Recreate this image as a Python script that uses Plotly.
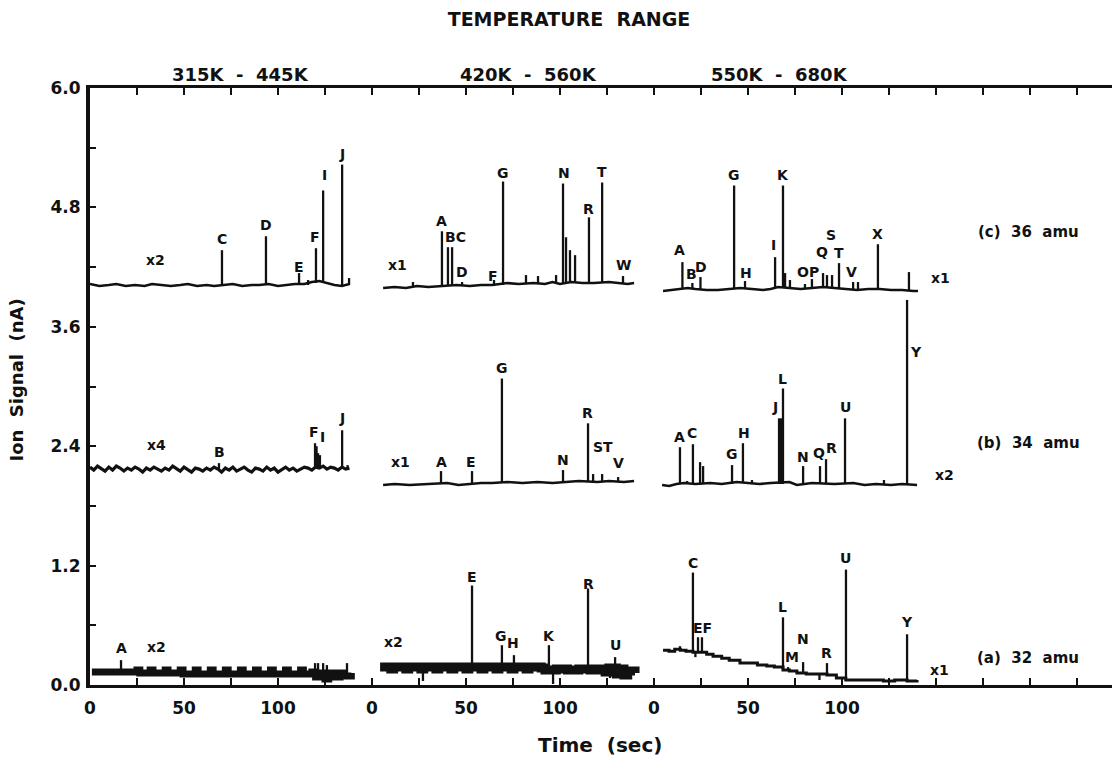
import plotly.graph_objects as go

INK = "#111111"
FONT = "DejaVu Sans"

# each temperature window restarts its time scale at 0 s; windows sit 150 s apart
SEG_OFFSET = [0, 150, 300]
TEMP_RANGES = ["315K  -  445K", "420K  -  560K", "550K  -  680K"]
AMU_LABELS = ["(c)  36  amu", "(b)  34  amu", "(a)  32  amu"]
AMU_LEVEL = [4.55, 2.43, 0.27]

# ---------------- (c) 36 amu ----------------
c1_t = [0, 5, 10, 14, 19, 24, 29, 33, 38, 43, 48, 52, 57, 62, 66, 71, 76, 81, 86, 90, 95, 100, 105, 109, 114, 118, 122, 126, 130, 134, 138]
c1_v = [4.03, 4.01, 4.02, 4.03, 4.01, 4.02, 4.01, 4.03, 4.02, 4.01, 4.02, 4.03, 4.01, 4.02, 4.01, 4.02, 4.03, 4.01, 4.02, 4.02, 4.03, 4.01, 4.02, 4.03, 4.03, 4.05, 4.06, 4.04, 4.02, 4.01, 4.03]
c1_pk_t = [70.2, 93.6, 111.2, 116.0, 120.2, 124.0, 134.1, 137.8]
c1_pk_lo = [4.02, 4.02, 4.02, 4.02, 4.04, 4.06, 4.02, 4.02]
c1_pk_hi = [4.37, 4.51, 4.14, 4.07, 4.39, 4.97, 5.23, 4.09]
c1_lab = [("x2", 35, 4.27), ("C", 70.2, 4.48), ("D", 93.6, 4.62), ("E", 111.2, 4.20),
          ("F", 119.5, 4.50), ("I", 124.5, 5.13), ("J", 134.1, 5.34)]

c2_t = [5.9, 12, 18, 24, 30, 36, 45, 52, 58, 64, 72, 78, 86, 92, 96, 100, 106, 112, 118, 126, 130, 136, 139.4]
c2_v = [3.99, 4.00, 3.99, 4.01, 4.00, 4.01, 4.02, 4.01, 4.02, 4.02, 4.04, 4.03, 4.04, 4.03, 4.05, 4.03, 4.05, 4.04, 4.04, 4.05, 4.04, 4.03, 4.04]
c2_pk_t = [21.8, 37.2, 40.4, 42.6, 47.9, 64.9, 69.7, 81.9, 88.3, 97.9, 101.6, 103.2, 105.3, 108.0, 115.4, 122.4, 133.5]
c2_pk_lo = [4.00, 4.01, 4.01, 4.01, 4.02, 4.02, 4.02, 4.04, 4.04, 4.04, 4.04, 4.04, 4.04, 4.04, 4.04, 4.04, 4.04]
c2_pk_hi = [4.05, 4.56, 4.40, 4.40, 4.05, 4.07, 5.06, 4.12, 4.11, 4.12, 5.04, 4.50, 4.37, 4.32, 4.70, 5.05, 4.11]
c2_lab = [("x1", 13.8, 4.22), ("A", 36.7, 4.66), ("BC", 44.2, 4.50), ("D", 47.9, 4.15),
          ("F", 64.4, 4.11), ("G", 69.7, 5.15), ("N", 102.1, 5.15), ("R", 115.4, 4.78),
          ("T", 122.4, 5.16), ("W", 134.0, 4.22)]

c3_t = [4.8, 10, 14, 18, 22, 28, 34, 40, 46, 52, 58, 62, 66, 72, 78, 84, 90, 96, 102, 108, 114, 120, 126, 132, 138, 140.4]
c3_v = [3.96, 3.97, 3.98, 3.99, 3.98, 3.97, 3.97, 3.98, 3.99, 3.98, 3.97, 3.98, 4.00, 3.99, 3.98, 3.99, 4.00, 3.99, 3.98, 3.97, 3.98, 3.98, 3.97, 3.97, 3.96, 3.96]
c3_pk_t = [15.1, 20.4, 24.7, 42.6, 48.4, 64.4, 68.6, 69.7, 72.3, 80.3, 84.0, 89.9, 92.0, 94.7, 98.4, 105.9, 108.5, 119.1, 135.6]
c3_pk_lo = [3.98, 3.98, 3.98, 3.98, 3.99, 3.99, 4.00, 4.00, 3.99, 3.98, 3.99, 3.99, 3.99, 3.99, 3.99, 3.98, 3.98, 3.98, 3.97]
c3_pk_hi = [4.25, 4.04, 4.10, 5.02, 4.06, 4.30, 5.02, 4.14, 4.07, 4.03, 4.08, 4.14, 4.12, 4.12, 4.24, 4.05, 4.05, 4.43, 4.15]
c3_lab = [("A", 13.8, 4.37), ("B", 19.7, 4.13), ("D", 25.0, 4.20), ("G", 42.6, 5.13),
          ("H", 49.0, 4.14), ("I", 63.3, 4.42), ("K", 68.6, 5.13), ("OP", 81.9, 4.15),
          ("Q", 89.4, 4.35), ("S", 94.2, 4.52), ("T", 98.4, 4.34), ("V", 104.8, 4.15),
          ("X", 119.1, 4.53), ("x1", 152.2, 4.09)]

# ---------------- (b) 34 amu ----------------
b1_t = [0, 2, 4, 6, 8, 10, 12, 14, 16, 18, 20, 22, 24, 26, 28, 30, 32, 34, 36, 38,
        40, 42, 44, 46, 48, 50, 52, 54, 56, 58, 60, 62, 64, 66, 68, 70, 72, 74, 76, 78,
        80, 82, 84, 86, 88, 90, 92, 94, 96, 98, 100, 102, 104, 106, 108, 110, 112, 114, 116, 118,
        120, 122, 124, 126, 128, 130, 132, 134, 136, 138]
b1_v = [2.19, 2.16, 2.20, 2.17, 2.15, 2.19, 2.16, 2.20, 2.18, 2.15,
        2.18, 2.16, 2.19, 2.17, 2.14, 2.18, 2.16, 2.19, 2.17, 2.15,
        2.18, 2.16, 2.20, 2.17, 2.15, 2.19, 2.16, 2.14, 2.18, 2.17,
        2.15, 2.18, 2.16, 2.19, 2.17, 2.14, 2.18, 2.16, 2.19, 2.15,
        2.17, 2.19, 2.16, 2.14, 2.18, 2.17, 2.15, 2.19, 2.16, 2.18,
        2.14, 2.17, 2.19, 2.16, 2.18, 2.15, 2.17, 2.19, 2.18, 2.16,
        2.19, 2.18, 2.20, 2.17, 2.19, 2.18, 2.16, 2.19, 2.17, 2.18]
b1_pk_t = [68.6, 119.7, 120.5, 121.3, 122.3, 134.1, 137.0]
b1_pk_lo = [2.16, 2.18, 2.18, 2.18, 2.18, 2.18, 2.17]
b1_pk_hi = [2.23, 2.43, 2.40, 2.33, 2.31, 2.56, 2.21]
b1_lab = [("x4", 35.6, 2.41), ("B", 69.1, 2.34), ("F", 119.2, 2.54), ("I", 123.4, 2.49), ("J", 134.1, 2.68)]

b2_t = [5.9, 12, 20, 28, 34, 40, 46, 52, 58, 64, 72, 80, 88, 96, 104, 110, 120, 126, 134, 139.4]
b2_v = [2.01, 2.02, 2.01, 2.02, 2.02, 2.03, 2.01, 2.02, 2.03, 2.03, 2.04, 2.03, 2.04, 2.03, 2.04, 2.05, 2.04, 2.05, 2.04, 2.05]
b2_pk_t = [36.7, 53.2, 69.1, 101.6, 114.9, 117.6, 122.4, 130.9]
b2_pk_lo = [2.02, 2.02, 2.03, 2.03, 2.04, 2.04, 2.04, 2.04]
b2_pk_hi = [2.15, 2.15, 3.08, 2.16, 2.63, 2.12, 2.12, 2.09]
b2_lab = [("x1", 15.4, 2.24), ("A", 37.2, 2.24), ("E", 52.7, 2.24), ("G", 69.1, 3.19),
          ("N", 101.4, 2.26), ("R", 114.6, 2.73), ("ST", 122.7, 2.39), ("V", 131.0, 2.23)]

b3_t = [4.3, 8, 12, 16, 22, 30, 36, 44, 50, 56, 62, 72, 76, 84, 96, 106, 112, 118, 126, 132, 139.9]
b3_v = [2.01, 2.00, 2.02, 2.03, 2.02, 2.03, 2.02, 2.04, 2.03, 2.02, 2.03, 2.04, 2.01, 2.03, 2.02, 2.03, 2.01, 2.02, 2.01, 2.02, 2.01]
b3_pk_t = [13.8, 17.6, 20.7, 24.5, 26.1, 41.5, 47.3, 52.1, 66.5, 67.5, 68.6, 79.3, 88.3, 91.5, 101.6, 122.3, 134.6]
b3_pk_lo = [2.02, 2.02, 2.02, 2.02, 2.02, 2.02, 2.03, 2.02, 2.02, 2.02, 2.02, 2.02, 2.02, 2.02, 2.02, 2.02, 2.02]
b3_pk_hi = [2.39, 2.05, 2.42, 2.24, 2.20, 2.21, 2.43, 2.06, 2.68, 2.68, 2.98, 2.20, 2.20, 2.27, 2.68, 2.06, 3.87]
b3_lab = [("A", 13.3, 2.49), ("C", 20.3, 2.53), ("G", 41.5, 2.32), ("H", 47.9, 2.53),
          ("J", 64.4, 2.79), ("L", 68.1, 3.08), ("N", 79.3, 2.29), ("Q", 87.8, 2.33),
          ("R", 94.2, 2.38), ("U", 101.6, 2.79), ("Y", 139.4, 3.35), ("x2", 154.3, 2.11)]

# ---------------- (a) 32 amu ----------------
a1_t = [1, 25, 26.5, 32, 33.5, 40, 41.5, 48, 49.5, 56, 57.5, 64, 65.5, 72, 73.5, 80, 81.5, 88, 89.5, 96, 97.5, 104, 105.5, 112, 113.5, 118, 120, 123, 125, 127, 130, 133, 135, 139]
a1_v = [0.13, 0.15, 0.12, 0.15, 0.12, 0.15, 0.12, 0.15, 0.11, 0.15, 0.11, 0.15, 0.11, 0.15, 0.11, 0.15, 0.11, 0.15, 0.11, 0.15, 0.11, 0.15, 0.11, 0.15, 0.11, 0.13, 0.08, 0.12, 0.06, 0.12, 0.08, 0.12, 0.09, 0.12]
a1_pk_t = [16.5, 119.7, 121.3, 124.0, 126.0, 136.7]
a1_pk_lo = [0.14, 0.12, 0.12, 0.12, 0.10, 0.12]
a1_pk_hi = [0.25, 0.22, 0.22, 0.22, 0.20, 0.22]
a1_lab = [("A", 16.5, 0.37), ("x2", 35.6, 0.38)]

a2_t = [4.3, 10, 11.5, 18, 19.5, 26, 27.5, 34, 35.5, 42, 43.5, 50, 51.5, 58, 59.5, 66, 67.5, 74, 75.5, 82, 83.5, 90, 92, 98, 104, 110, 116, 120, 124, 126, 130, 132, 134, 136, 139.9]
a2_v = [0.18, 0.16, 0.18, 0.16, 0.18, 0.16, 0.18, 0.16, 0.18, 0.16, 0.18, 0.16, 0.18, 0.16, 0.18, 0.16, 0.18, 0.16, 0.18, 0.16, 0.18, 0.17, 0.15, 0.16, 0.15, 0.16, 0.15, 0.16, 0.13, 0.17, 0.11, 0.16, 0.10, 0.14, 0.12]
a2_pk_t = [27.1, 53.2, 69.1, 75.5, 94.1, 96.3, 114.9, 126.6, 129.3, 136.2]
a2_pk_lo = [0.14, 0.20, 0.20, 0.20, 0.18, 0.14, 0.18, 0.13, 0.16, 0.12]
a2_pk_hi = [0.04, 1.00, 0.40, 0.30, 0.40, 0.01, 0.97, 0.07, 0.28, 0.07]
a2_lab = [("x2", 11.2, 0.43), ("E", 53.2, 1.09), ("G", 68.6, 0.49), ("H", 75.0, 0.42),
          ("K", 94.1, 0.49), ("R", 114.9, 1.02), ("U", 129.3, 0.40)]

a3_t = [4.8, 8, 11, 14, 17, 20.7, 24, 28, 31.4, 36, 40, 45.7, 50, 55, 60, 64, 68.6, 72, 76, 81, 86, 92, 97, 102, 108, 116, 122, 128, 134.6, 139.9]
a3_v = [0.35, 0.34, 0.36, 0.35, 0.34, 0.33, 0.33, 0.31, 0.29, 0.27, 0.25, 0.22, 0.22, 0.20, 0.19, 0.18, 0.15, 0.14, 0.12, 0.11, 0.11, 0.10, 0.07, 0.05, 0.05, 0.05, 0.04, 0.05, 0.04, 0.05]
a3_pk_t = [13.8, 20.7, 22.0, 23.4, 25.5, 68.6, 71.3, 79.3, 88.0, 92.0, 102.1, 134.6]
a3_pk_lo = [0.35, 0.33, 0.33, 0.33, 0.33, 0.15, 0.14, 0.12, 0.11, 0.10, 0.05, 0.04]
a3_pk_hi = [0.39, 1.13, 0.28, 0.48, 0.48, 0.68, 0.18, 0.23, 0.05, 0.22, 1.16, 0.51]
a3_lab = [("C", 20.7, 1.23), ("EF", 25.8, 0.57), ("L", 68.1, 0.78), ("M", 73.4, 0.28),
          ("N", 79.3, 0.46), ("R", 92.0, 0.32), ("U", 102.1, 1.28), ("Y", 134.6, 0.63),
          ("x1", 151.7, 0.15)]

X_TICKS = [0, 25, 50, 75, 100, 125, 150, 175, 200, 225, 250, 275, 300, 325, 350, 375, 400,
           425, 450, 475, 500, 525]
X_TICK_TEXT = ["0", "", "50", "", "100", "", "0", "", "50", "", "100", "", "0", "", "50", "", "100",
               "", "", "", "", ""]
Y_TICKS = [0.0, 0.6, 1.2, 1.8, 2.4, 3.0, 3.6, 4.2, 4.8, 5.4, 6.0]
Y_TICK_TEXT = ["0.0", "", "1.2", "", "2.4", "", "3.6", "", "4.8", "", "6.0"]


fig = go.Figure()
annotations = []


def label(text, x, y, xref="x", yref="y", size=14, **kw):
    annotations.append(
        dict(x=x, y=y, xref=xref, yref=yref, text=text, showarrow=False,
             xanchor="center", yanchor="middle",
             font=dict(family=FONT, size=size, color=INK, weight="bold"), **kw)
    )


def add_segment(seg, base_t, base_v, pk_t, pk_lo, pk_hi, labels, base_width=2.6, shape="linear"):
    off = SEG_OFFSET[seg]
    fig.add_trace(
        go.Scatter(
            x=[t + off for t in base_t],
            y=base_v,
            mode="lines",
            line=dict(color=INK, width=base_width, shape=shape),
            hoverinfo="skip",
            showlegend=False,
        )
    )
    # each peak is a thin vertical stroke from its foot to its top
    xs, ys = [], []
    for t, lo, hi in zip(pk_t, pk_lo, pk_hi):
        xs += [t + off, t + off, None]
        ys += [lo, hi, None]
    fig.add_trace(
        go.Scatter(x=xs, y=ys, mode="lines", line=dict(color=INK, width=2.3), hoverinfo="skip", showlegend=False)
    )
    for text, t, v in labels:
        label(text, t + off, v)


add_segment(0, c1_t, c1_v, c1_pk_t, c1_pk_lo, c1_pk_hi, c1_lab)
add_segment(1, c2_t, c2_v, c2_pk_t, c2_pk_lo, c2_pk_hi, c2_lab)
add_segment(2, c3_t, c3_v, c3_pk_t, c3_pk_lo, c3_pk_hi, c3_lab)
add_segment(0, b1_t, b1_v, b1_pk_t, b1_pk_lo, b1_pk_hi, b1_lab, base_width=3.2)
add_segment(1, b2_t, b2_v, b2_pk_t, b2_pk_lo, b2_pk_hi, b2_lab)
add_segment(2, b3_t, b3_v, b3_pk_t, b3_pk_lo, b3_pk_hi, b3_lab)
add_segment(0, a1_t, a1_v, a1_pk_t, a1_pk_lo, a1_pk_hi, a1_lab, base_width=7, shape="hv")
add_segment(1, a2_t, a2_v, a2_pk_t, a2_pk_lo, a2_pk_hi, a2_lab, base_width=9, shape="hv")
add_segment(2, a3_t, a3_v, a3_pk_t, a3_pk_lo, a3_pk_hi, a3_lab, base_width=3, shape="hv")

# temperature window headers above the frame
for text, px in zip(TEMP_RANGES, [240, 528, 779]):
    label(text, (px - 90) / 1022, 1.022, xref="paper", yref="paper", size=18)

for text, lvl in zip(AMU_LABELS, AMU_LEVEL):
    label(text, 0.918, lvl, xref="paper", size=15)

label("Ion  Signal  (nA)", -0.0714, 0.51, xref="paper", yref="paper", size=18, textangle=-90)
label("Time  (sec)", (600 - 90) / 1022, -0.10, xref="paper", yref="paper", size=20)

fig.update_layout(
    width=1112,
    height=763,
    margin=dict(l=90, r=0, t=88, b=78),
    plot_bgcolor="white",
    paper_bgcolor="white",
    font=dict(family=FONT, size=17, color=INK, weight="bold"),
    title=dict(text="TEMPERATURE  RANGE", x=569 / 1112, xanchor="center", y=0.974, yanchor="middle",
               font=dict(family=FONT, size=19, color=INK, weight="bold")),
    xaxis=dict(
        range=[0, 543.6],
        tickvals=X_TICKS,
        ticktext=X_TICK_TEXT,
        ticks="inside",
        ticklen=7,
        tickwidth=2,
        tickcolor=INK,
        showline=True,
        linewidth=3,
        linecolor=INK,
        mirror="ticks",
        showgrid=False,
        zeroline=False,
        ticklabelstandoff=6,
    ),
    yaxis=dict(
        range=[0, 6.0],
        tickvals=Y_TICKS,
        ticktext=Y_TICK_TEXT,
        ticks="inside",
        ticklen=6,
        tickwidth=2,
        tickcolor=INK,
        showline=True,
        linewidth=4,
        linecolor=INK,
        showgrid=False,
        zeroline=False,
        ticklabelstandoff=2,
    ),
    annotations=annotations,
    showlegend=False,
)

# the page's default body margin would shift the fixed-size figure off its frame
fig.write_html(
    "out.html",
    config={"displayModeBar": False},
    post_script="document.body.style.margin='0';document.body.style.overflow='hidden';",
)
